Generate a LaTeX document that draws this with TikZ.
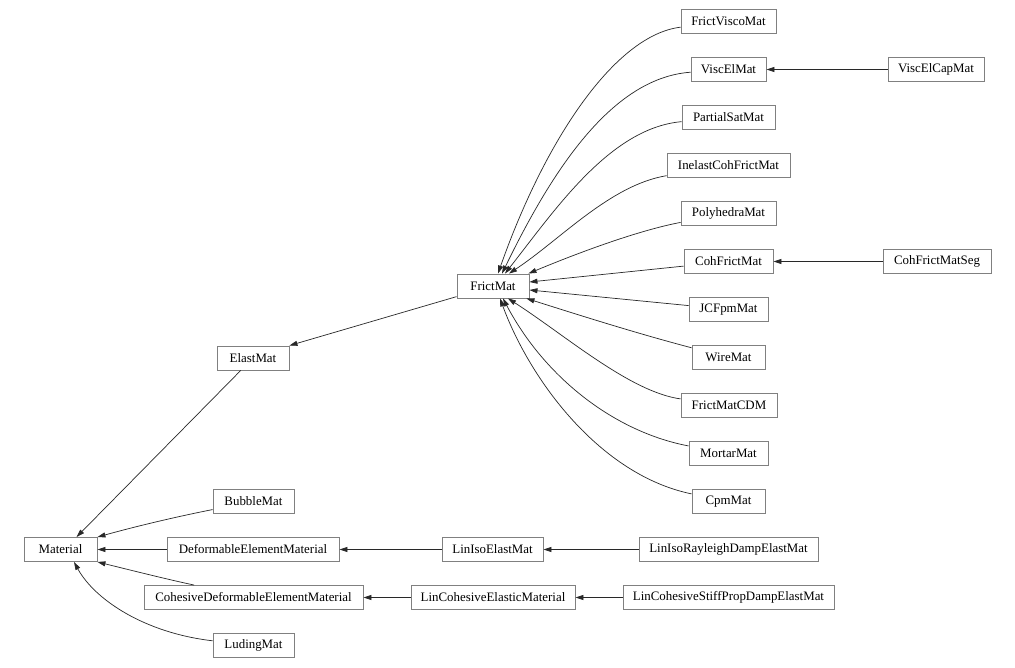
\documentclass[tikz,border=0pt]{standalone}
\usepackage{fontspec}
\setmainfont{Liberation Serif}
\usetikzlibrary{arrows.meta}
\definecolor{boxgray}{RGB}{128,128,128}
\definecolor{edgecol}{RGB}{40,40,40}
\tikzset{
  box/.style={draw=boxgray, line width=0.9pt, minimum height=24pt, inner sep=0pt,
              font=\fontsize{12.9}{15}\selectfont, text=black},
  arr/.style={draw=edgecol, line width=0.7pt, -{Triangle[length=8pt,width=5pt]}}
}
\begin{document}
\begin{tikzpicture}[x=1pt,y=-1pt]
\useasboundingbox (0,0) rectangle (1015,668);
\fill[white] (0,0) rectangle (1015,668);
% left part
\node[box, minimum width=73pt]  (Material)  at (60.5,549.5) {Material};
\node[box, minimum width=72pt]  (ElastMat)  at (253,358)    {ElastMat};
\node[box, minimum width=81pt]  (BubbleMat) at (253.5,501.5) {BubbleMat};
\node[box, minimum width=172pt] (DEM)       at (253,549.5)  {DeformableElementMaterial};
\node[box, minimum width=219pt] (CDEM)      at (253.5,597.5) {CohesiveDeformableElementMaterial};
\node[box, minimum width=81pt]  (LudingMat) at (253.5,645.5) {LudingMat};
% middle
\node[box, minimum width=72pt]  (FrictMat)       at (493,286)   {FrictMat};
\node[box, minimum width=101pt] (LinIsoElastMat) at (492.5,549.5) {LinIsoElastMat};
\node[box, minimum width=164pt] (LinCohEl)       at (493,597.5) {LinCohesiveElasticMaterial};
% right column
\node[box, minimum width=95pt]  (FrictViscoMat)  at (728.5,21.5)  {FrictViscoMat};
\node[box, minimum width=75pt]  (ViscElMat)      at (728.5,69.5)  {ViscElMat};
\node[box, minimum width=93pt]  (PartialSatMat)  at (728.5,117.5) {PartialSatMat};
\node[box, minimum width=123pt] (InelastCohFrictMat) at (728.5,165.5) {InelastCohFrictMat};
\node[box, minimum width=95pt]  (PolyhedraMat)   at (728.5,213.5) {PolyhedraMat};
\node[box, minimum width=89pt]  (CohFrictMat)    at (728.5,261.5) {CohFrictMat};
\node[box, minimum width=79pt]  (JCFpmMat)       at (728.5,309.5) {JCFpmMat};
\node[box, minimum width=73pt]  (WireMat)        at (728.5,357.5) {WireMat};
\node[box, minimum width=96pt]  (FrictMatCDM)    at (729,405.5)   {FrictMatCDM};
\node[box, minimum width=79pt]  (MortarMat)      at (728.5,453.5) {MortarMat};
\node[box, minimum width=73pt]  (CpmMat)         at (728.5,501.5) {CpmMat};
\node[box, minimum width=179pt] (LinIsoRay)      at (728.5,549.5) {LinIsoRayleighDampElastMat};
\node[box, minimum width=211pt] (LinCohStiff)    at (728.5,597.5) {LinCohesiveStiffPropDampElastMat};
% far right
\node[box, minimum width=96pt]  (ViscElCapMat)   at (936,69.5)  {ViscElCapMat};
\node[box, minimum width=108pt] (CohFrictMatSeg) at (937,261.5) {CohFrictMatSeg};

% edges into Material
\draw[arr] (ElastMat) -- ([xshift=16pt]Material.north);
\draw[arr] (BubbleMat) .. controls (170,518) and (130,528) .. (Material.north east);
\draw[arr] (DEM) -- (Material);
\draw[arr] (CDEM) .. controls (170,580) and (130,570) .. (Material.south east);
\draw[arr] (LudingMat) .. controls (145,633) and (95,600) .. ([xshift=13.5pt]Material.south);
% ElastMat
\draw[arr] (FrictMat) -- (ElastMat.north east);
% chains
\draw[arr] (LinIsoElastMat) -- (DEM);
\draw[arr] (LinIsoRay) -- (LinIsoElastMat);
\draw[arr] (LinCohEl) -- (CDEM);
\draw[arr] (LinCohStiff) -- (LinCohEl);
\draw[arr] (ViscElCapMat) -- (ViscElMat);
\draw[arr] (CohFrictMatSeg) -- (CohFrictMat);
% into FrictMat
\draw[arr] (FrictViscoMat) .. controls (615,35) and (545,140) .. ([xshift=5pt]FrictMat.north);
\draw[arr] (ViscElMat) .. controls (610,78) and (550,175) .. ([xshift=9pt]FrictMat.north);
\draw[arr] (PartialSatMat) .. controls (610,128) and (555,210) .. ([xshift=12pt]FrictMat.north);
\draw[arr] (InelastCohFrictMat) .. controls (610,185) and (560,240) .. ([xshift=16pt]FrictMat.north);
\draw[arr] (PolyhedraMat) .. controls (640,230) and (580,252) .. ([xshift=-1pt]FrictMat.north east);
\draw[arr] (CohFrictMat) -- ([yshift=4pt]FrictMat.east);
\draw[arr] (JCFpmMat) -- ([yshift=-4pt]FrictMat.east);
\draw[arr] (WireMat) .. controls (636.5,333.3) and (581,315.7) .. ([xshift=-3pt]FrictMat.south east);
\draw[arr] (FrictMatCDM) .. controls (630,392) and (565,335) .. ([xshift=15pt]FrictMat.south);
\draw[arr] (MortarMat) .. controls (615,432) and (545,378) .. ([xshift=10pt]FrictMat.south);
\draw[arr] (CpmMat) .. controls (600,475) and (530,380) .. ([xshift=7pt]FrictMat.south);
\end{tikzpicture}
\end{document}
